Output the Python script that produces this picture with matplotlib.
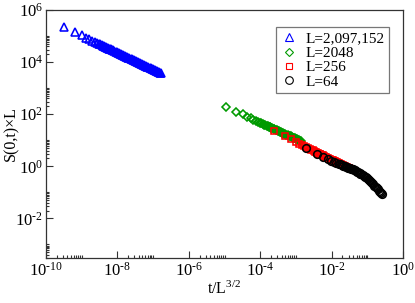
"""Scaling collapse of S(0,t) x L versus t/L^(3/2) for several system sizes."""

import numpy as np
import matplotlib
matplotlib.use("Agg")
import matplotlib.pyplot as plt
from matplotlib.ticker import FixedLocator, NullFormatter

plt.rcParams["font.family"] = ["Liberation Serif", "DejaVu Serif"]
plt.rcParams["mathtext.fontset"] = "custom"
plt.rcParams["mathtext.rm"] = "Liberation Serif"
plt.rcParams["mathtext.it"] = "Liberation Serif:italic"

# system sizes
sizes = [2097152, 2048, 256, 64]
labels = ["L=2,097,152", "L=2048", "L=256", "L=64"]

# times and S(0,t)*L
t_big = [1, 2, 3, 4, 5, 6, 7, 8, 9, 10, 11, 12, 13, 14, 15, 16, 17, 18, 19, 20,
         22, 23, 25, 27, 29, 31, 33, 35, 38, 41, 44, 47, 50, 54, 58, 62, 66, 71,
         76, 81, 87, 93, 100, 107, 114, 122, 131, 140, 150, 160, 171, 183, 196,
         210, 225, 241, 258, 276, 295, 316, 338, 362, 387, 414, 443, 474, 512]
s_big = [2.16e5, 1.37e5, 1.06e5, 8.75e4, 7.56e4, 6.71e4, 6.07e4, 5.56e4, 5.15e4,
         4.81e4, 4.52e4, 4.27e4, 4.05e4, 3.86e4, 3.69e4, 3.54e4, 3.40e4, 3.28e4,
         3.16e4, 3.06e4, 2.87e4, 2.79e4, 2.64e4, 2.51e4, 2.40e4, 2.30e4, 2.21e4,
         2.12e4, 2.01e4, 1.91e4, 1.83e4, 1.75e4, 1.68e4, 1.60e4, 1.53e4, 1.46e4,
         1.40e4, 1.34e4, 1.28e4, 1.23e4, 1.17e4, 1.12e4, 1.07e4, 1.02e4, 9.81e3,
         9.39e3, 8.96e3, 8.58e3, 8.20e3, 7.87e3, 7.53e3, 7.20e3, 6.89e3, 6.59e3,
         6.30e3, 6.02e3, 5.76e3, 5.51e3, 5.28e3, 5.04e3, 4.83e3, 4.62e3, 4.42e3,
         4.23e3, 4.05e3, 3.87e3, 3.68e3]

t_small = [1, 2, 3, 4, 5, 6, 7, 8, 9, 10, 11, 12, 13, 14, 15, 16, 17, 18, 19, 20,
           22, 23, 25, 27, 29, 31, 33, 35, 38, 41, 44, 47, 50, 54, 58, 62, 66, 71,
           76, 81, 87, 93, 100, 107, 114, 122, 128]
s_2048 = [186, 120, 97.7, 81.3, 68.6, 61.3, 55.7, 51.3, 47.7, 44.7, 42.1, 39.9,
          38.0, 36.3, 34.7, 33.4, 32.2, 31.0, 30.0, 29.1, 27.4, 26.7, 25.3, 24.1,
          23.1, 22.1, 21.3, 20.5, 19.5, 18.6, 17.8, 17.1, 16.5, 15.7, 15.0, 14.4,
          13.9, 13.3, 12.7, 12.2, 11.7, 11.2, 10.7, 10.3, 9.88, 9.47, 9.20]
s_256 = [22.9, 14.8, 11.0, 8.71, 7.45, 6.56, 5.90, 5.37, 4.95, 4.60, 4.30, 4.05,
         3.83, 3.64, 3.46, 3.31, 3.18, 3.06, 2.95, 2.86, 2.68, 2.60, 2.46, 2.34,
         2.23, 2.13, 2.05, 1.97, 1.86, 1.77, 1.69, 1.62, 1.55, 1.48, 1.41, 1.35,
         1.29, 1.23, 1.18, 1.13, 1.075, 1.03, 0.98, 0.937, 0.898, 0.859, 0.832]
s_64 = [4.90, 3.02, 2.29, 1.91, 1.66, 1.48, 1.35, 1.26, 1.17, 1.11, 1.05, 1.00,
        0.96, 0.92, 0.89, 0.86, 0.83, 0.80, 0.78, 0.76, 0.71, 0.69, 0.65, 0.614,
        0.58, 0.55, 0.524, 0.50, 0.462, 0.427, 0.398, 0.372, 0.347, 0.316, 0.289,
        0.267, 0.246, 0.223, 0.201, 0.182, 0.163, 0.146, 0.130, 0.115, 0.102,
        0.0906, 0.0832]

series = [
    (t_big, s_big, "^", "#0000ff", 5.6),
    (t_small, s_2048, "D", "#009a00", 4.3),
    (t_small, s_256, "s", "#ff0000", 4.7),
    (t_small, s_64, "o", "#000000", 5.5),
]


def power_label(e):
    sign = r"\text{-}" if e < 0 else ""
    return r"$\mathregular{10^{%s%d}}$" % (sign, abs(e))


fig = plt.figure(figsize=(4.15, 3.03), dpi=100)
ax = fig.add_axes([46 / 415, 45 / 303, 357 / 415, 248 / 303])

for (t, s, marker, color, ms), L, label in zip(series, sizes, labels):
    x = np.array(t, dtype=float) / L ** 1.5
    ax.plot(x, s, linestyle="none", marker=marker, markersize=ms,
            markerfacecolor="none", markeredgecolor=color,
            markeredgewidth=1.15, label=label)

ax.set_xscale("log")
ax.set_yscale("log")
ax.set_xlim(1e-10, 1)
ax.set_ylim(3e-4, 1e6)

x_exp = list(range(-10, 1, 2))
y_exp = list(range(-2, 7, 2))
ax.xaxis.set_major_locator(FixedLocator([10.0 ** e for e in x_exp]))
ax.yaxis.set_major_locator(FixedLocator([10.0 ** e for e in y_exp]))
ax.set_xticklabels([power_label(e) for e in x_exp])
ax.set_yticklabels([power_label(e) for e in y_exp])

x_minor = [k * 10.0 ** e for e in range(-10, 0, 2) for k in range(2, 11)]
y_minor = [k * 10.0 ** e for e in range(-4, 6, 2) for k in range(2, 11)]
ax.xaxis.set_minor_locator(FixedLocator(x_minor))
ax.yaxis.set_minor_locator(FixedLocator(y_minor))
ax.xaxis.set_minor_formatter(NullFormatter())
ax.yaxis.set_minor_formatter(NullFormatter())

ax.tick_params(which="both", direction="in", top=False, right=False,
               labelsize=12, width=0.8, color="#333333")
ax.tick_params(which="major", length=5)
ax.tick_params(axis="x", which="major", pad=3)
ax.tick_params(axis="y", which="major", pad=2)
ax.tick_params(which="minor", length=2.5)
for spine in ax.spines.values():
    spine.set_linewidth(0.9)
    spine.set_color("#333333")

ax.set_xlabel(r"$\mathregular{t/L^{3/2}}$", fontsize=11.5)
ax.set_ylabel("S(0,t)\u00d7L", fontsize=11.5)
ax.xaxis.set_label_coords(0.5, -0.09)
ax.yaxis.set_label_coords(-0.075, 0.5)

leg = ax.legend(loc="upper right", bbox_to_anchor=(0.961, 0.931),
                borderaxespad=0, fontsize=11, frameon=True, fancybox=False,
                handlelength=1.0, handletextpad=0.6, labelspacing=0.05,
                borderpad=0.3, numpoints=1)
leg.get_frame().set_edgecolor("#555555")
leg.get_frame().set_linewidth(0.9)
for handle in leg.legend_handles:
    handle.set_markeredgewidth(0.8)

fig.savefig("out.png", dpi=100)
plt.close(fig)
